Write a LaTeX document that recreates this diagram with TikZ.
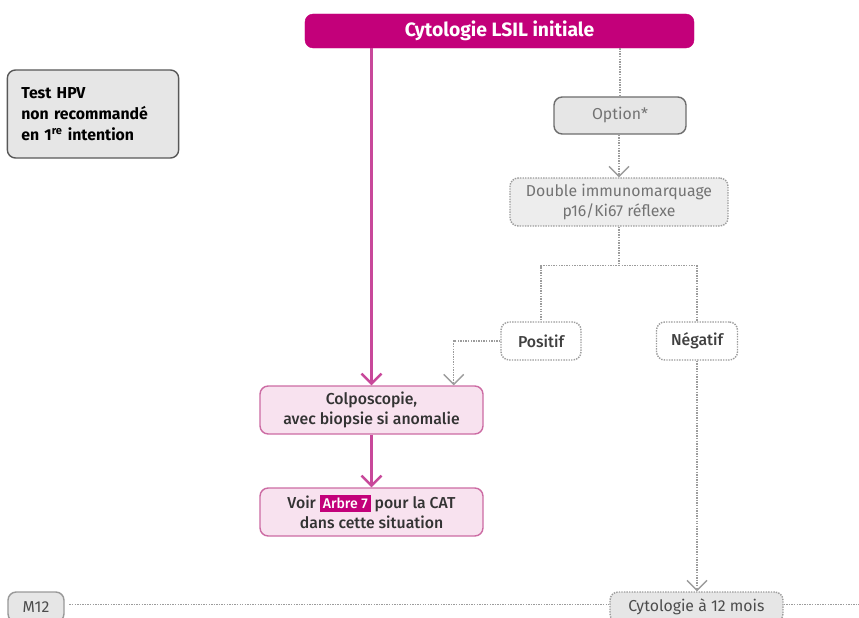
\documentclass[tikz,border=0pt]{standalone}
\usepackage{fontspec}
\setmainfont{Fira Sans}
\newfontfamily\medium{Fira Sans Medium}
\usetikzlibrary{arrows.meta}
\definecolor{rose}{HTML}{C3007A}
\definecolor{rosetrait}{HTML}{C8489A}
\definecolor{rosepale}{HTML}{F8E2EF}
\definecolor{roseline}{HTML}{CC6BA3}
\definecolor{grisfond}{HTML}{E6E6E6}
\definecolor{grisbord}{HTML}{6E6E6E}
\definecolor{grispoint}{HTML}{9C9C9C}

\begin{document}
\begin{tikzpicture}[x=0.03cm,y=-0.03cm,
    font=\fontsize{13.5}{17.5}\selectfont,
    box/.style={rectangle,rounded corners=7pt,align=center,inner sep=2pt},
    titre/.style={box,fill=rose,draw=rose,text=white,font=\fontsize{16.5}{19}\selectfont\bfseries},
    rosebox/.style={box,fill=rosepale,draw=roseline,line width=1.2pt,text=black!80,
        font=\fontsize{13.5}{17.5}\selectfont\medium,minimum width=6.69cm,minimum height=1.44cm},
    grisbox/.style={box,fill=grisfond,draw=grisbord,line width=1.2pt},
    pointbox/.style={box,draw=grispoint,densely dotted,line width=1.2pt},
    fleche/.style={draw=rosetrait,line width=2pt,-{Straight Barb[length=0.3cm,width=0.6cm]}},
    pointille/.style={draw=grispoint,line width=1.2pt,densely dotted},
    pfleche/.style={pointille,-{Straight Barb[length=0.3cm,width=0.6cm]}}]
\useasboundingbox (0,0) rectangle (859,618);
\clip (0,0) rectangle (859,618);
\node[titre,minimum width=11.67cm,minimum height=1.02cm] (titre) at (499.5,31) {Cytologie LSIL initiale};
\node[grisbox,draw=grisbord!80!black,text width=4.3cm,align=left,inner sep=0.42cm,
    minimum height=2.64cm,font=\fontsize{13.5}{18}\selectfont\bfseries] (hpv) at (93,114)
    {Test HPV\\non recommandé\\en 1\textsuperscript{re} intention};
\node[grisbox,text=black!55,minimum width=3.96cm,minimum height=1.11cm] (option) at (620,115.5) {Option*};
\node[pointbox,fill=grisfond!70,text=black!55,minimum width=6.54cm,minimum height=1.44cm] (double) at (619,202)
    {Double immunomarquage\\p16/Ki67 réflexe};
\node[pointbox,fill=white,text=black!75,font=\fontsize{13.5}{17.5}\selectfont\medium,
    minimum width=2.4cm,minimum height=1.14cm] (positif) at (541,341) {Positif};
\node[pointbox,fill=white,text=black!75,font=\fontsize{13.5}{17.5}\selectfont\medium,
    minimum width=2.43cm,minimum height=1.14cm] (negatif) at (697,341) {Négatif};
\node[rosebox] (colpo) at (371.5,410) {Colposcopie,\\avec biopsie si anomalie};
\node[rosebox] (voir) at (371.5,512)
    {Voir {\setlength{\fboxsep}{2.5pt}\colorbox{rose}{\textcolor{white}{\fontsize{12}{13}\selectfont Arbre 7}}} pour la CAT\\dans cette situation};
\node[grisbox,draw=grisbord!70,text=black!70,minimum width=1.68cm,minimum height=0.9cm] (m12) at (36,607) {M12};
\node[pointbox,fill=grisfond,text=black!70,minimum width=5.19cm,minimum height=0.9cm] (cyto) at (696.5,607) {Cytologie à 12 mois};
\coordinate (fin) at (859,604);
\draw[fleche] (titre.south -| colpo.north) -- (colpo.north);
\draw[pointille] (titre.south -| option.north) -- (option.north);
\draw[pfleche] (option.south -| double.north) -- (double.north);
\draw[pointille] (double.south) -- ++(0,39) -| (positif.north);
\draw[pointille] (double.south) ++(0,39) -| (negatif.north);
\draw[pfleche] (positif.west) -| ([xshift=-0.9cm]colpo.north east);
\draw[fleche] (colpo.south) -- (voir.north);
\draw[pfleche] (negatif.south) -- (negatif.south |- cyto.north);
\draw[pointille,line width=0.8pt] ([xshift=4pt,yshift=0.09cm]m12.east) -- ([yshift=0.09cm]cyto.west);
\draw[pointille,line width=0.8pt] ([yshift=0.09cm]cyto.east) -- (fin);
\end{tikzpicture}
\end{document}
